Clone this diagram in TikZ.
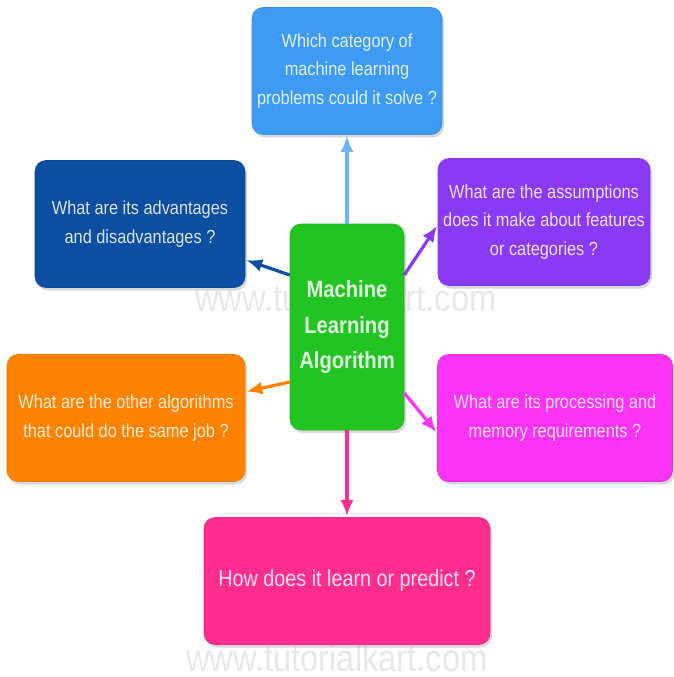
\documentclass[tikz,border=0pt]{standalone}
\usepackage{fontspec}
\setmainfont{Liberation Sans}[FakeStretch=0.86]
\usetikzlibrary{positioning,arrows.meta,shadows}

\definecolor{catblue}{HTML}{3D9BF4}
\definecolor{prosblue}{HTML}{0B4EA2}
\definecolor{assumepurple}{HTML}{8A3AF5}
\definecolor{otherorange}{HTML}{FF8200}
\definecolor{costmagenta}{HTML}{FB33F5}
\definecolor{learnpink}{HTML}{FF2E8E}
\definecolor{alggreen}{HTML}{22C422}

\begin{document}
\begin{tikzpicture}[x=1pt,y=1pt,shorten >=1pt,node distance=2cm,on grid,
    >={Latex[length=16pt,width=13pt]},
    box/.style={rectangle,rounded corners=11pt,fill=#1,draw=#1!92!black,line width=0.6pt,
      text=white!85!#1,align=center,minimum height=127pt,
      font=\fontsize{19}{28.5}\selectfont,
      drop shadow={shadow xshift=2pt,shadow yshift=-3pt,opacity=0.3}},
    wmark/.style={text=black!9,inner sep=0pt,font=\fontsize{38}{38}\selectfont}]
  \useasboundingbox (0,0) rectangle (673,-677);

  % watermarks behind everything
  \node[wmark] (wm_1) at (346,-298) {www.tutorialkart.com};
  \node[wmark] (wm_2) at (337,-658) {www.tutorialkart.com};

  \node[box=alggreen,minimum width=114pt,minimum height=206pt,
        font=\bfseries\fontsize{23.5}{35.5}\selectfont] (alg) at (347,-327)
        {Machine\\Learning\\Algorithm};
  \node[box=catblue,minimum width=190pt] (cat) [above=256pt of alg]
        {Which category of\\machine learning\\problems could it solve ?};
  \node[box=prosblue,minimum width=210pt] (pros) [above left=103pt and 207pt of alg]
        {What are its advantages\\and disadvantages ?};
  \node[box=assumepurple,minimum width=212pt] (assume) [above right=105pt and 197pt of alg]
        {What are the assumptions\\does it make about features\\or categories ?};
  \node[box=otherorange,minimum width=238pt] (other) [below left=91pt and 221pt of alg]
        {What are the other algorithms\\that could do the same job ?};
  \node[box=costmagenta,minimum width=235pt] (cost) [below right=91pt and 208pt of alg]
        {What are its processing and\\memory requirements ?};
  \node[box=learnpink,minimum width=286pt,font=\fontsize{23}{28}\selectfont] (learn) [below=254pt of alg]
        {How does it learn or predict ?};

  \path[->,line width=3.2pt]
    (alg) edge[draw=catblue!75!white] (cat)
    ([yshift=52pt]alg.west) edge[draw=prosblue] (pros)
    ([yshift=52pt]alg.east) edge[draw=assumepurple] ([yshift=-3pt]assume.west)
    ([yshift=-55pt]alg.west) edge[draw=otherorange] (other)
    ([yshift=-66pt]alg.east) edge[draw=costmagenta] ([yshift=-15pt]cost.west)
    (alg) edge[draw=learnpink] (learn)
    ;
\end{tikzpicture}
\end{document}
